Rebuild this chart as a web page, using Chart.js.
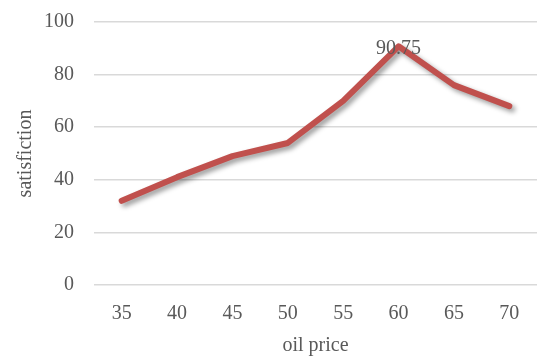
<!DOCTYPE html>
<html>
<head>
<meta charset="utf-8">
<script src="https://cdn.jsdelivr.net/npm/chart.js@4/dist/chart.umd.min.js"></script>
<style>
body { margin:0; background:#fff; }
#wrap { width:539px; height:359px; }
</style>
</head>
<body>
<div id="wrap"><canvas id="chart" width="539" height="359"></canvas></div>
<script>
var prices = ['35', '40', '45', '50', '55', '60', '65', '70'];
var satisfaction = [32, 41, 49, 54, 70, 90.75, 76, 68];
var labeledPoints = [5];
var yTicks = [0, 20, 40, 60, 80, 100];

var textColor = '#595959';
var fontFamily = "'Liberation Serif', 'DejaVu Serif', serif";

// soft grey shadow under the line, like the office chart
var lineShadow = {
    id: 'lineShadow',
    beforeDatasetDraw: function(chart) {
        var ctx = chart.ctx;
        ctx.save();
        ctx.shadowColor = 'rgba(0,0,0,0.4)';
        ctx.shadowBlur = 5;
        ctx.shadowOffsetX = 3;
        ctx.shadowOffsetY = 3;
    },
    afterDatasetDraw: function(chart) {
        chart.ctx.restore();
    }
};

var pointLabels = {
    id: 'pointLabels',
    afterDatasetsDraw: function(chart) {
        var ctx = chart.ctx;
        var meta = chart.getDatasetMeta(0);
        ctx.save();
        ctx.font = '20px ' + fontFamily;
        ctx.fillStyle = textColor;
        ctx.textAlign = 'center';
        ctx.textBaseline = 'middle';
        for (var i = 0; i < labeledPoints.length; i++) {
            var p = meta.data[labeledPoints[i]];
            ctx.fillText(satisfaction[labeledPoints[i]], p.x, p.y + 2);
        }
        ctx.restore();
    }
};

new Chart(document.getElementById('chart').getContext('2d'), {
    type: 'line',
    data: {
        labels: prices,
        datasets: [{
            data: satisfaction,
            borderColor: '#C0504D',
            borderWidth: 6,
            pointRadius: 0,
            tension: 0,
            borderCapStyle: 'round',
            borderJoinStyle: 'round',
            fill: false
        }]
    },
    options: {
        responsive: false,
        animation: false,
        layout: { padding: { top: 22, right: 2, left: 14, bottom: 0 } },
        plugins: {
            legend: { display: false },
            tooltip: { enabled: false }
        },
        scales: {
            x: {
                offset: true,
                grid: { display: false },
                border: { display: false },
                ticks: { color: textColor, font: { family: fontFamily, size: 20 }, padding: 9 },
                title: {
                    display: true,
                    text: 'oil price',
                    color: textColor,
                    font: { family: fontFamily, size: 20 },
                    padding: { top: 0, bottom: 1 }
                },
                afterFit: function(scale) { scale.height = 74; }
            },
            y: {
                min: 0,
                max: 100,
                afterBuildTicks: function(axis) {
                    axis.ticks = yTicks.map(function(v) { return { value: v }; });
                },
                grid: { color: '#d9d9d9', lineWidth: 1.5, drawTicks: false },
                border: { display: false },
                ticks: { color: textColor, font: { family: fontFamily, size: 20 }, padding: 20 },
                title: {
                    display: true,
                    text: 'satisfiction',
                    color: textColor,
                    font: { family: fontFamily, size: 20 },
                    padding: { top: 0, bottom: 8 }
                },
                afterFit: function(scale) {
                    scale.width = 80;
                    scale.paddingTop = 0;
                    scale.paddingBottom = 0;
                }
            }
        }
    },
    plugins: [lineShadow, pointLabels]
});
</script>
</body>
</html>
